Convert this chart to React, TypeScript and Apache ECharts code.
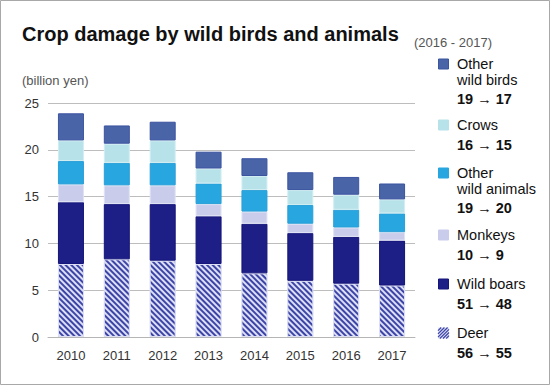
import React, { useEffect, useRef } from "react";
import * as echarts from "echarts";

const years = ["2010", "2011", "2012", "2013", "2014", "2015", "2016", "2017"];
const deer = [7.8, 8.3, 8.15, 7.8, 6.8, 6.0, 5.7, 5.5];
const wildBoars = [6.6, 5.9, 6.05, 5.1, 5.3, 5.1, 5.0, 4.8];
const monkeys = [1.9, 2.0, 2.0, 1.3, 1.3, 1.0, 1.0, 0.9];
const otherWildAnimals = [2.5, 2.4, 2.4, 2.2, 2.3, 2.0, 1.9, 2.0];
const crows = [2.2, 2.05, 2.4, 1.6, 1.5, 1.6, 1.6, 1.5];
const otherWildBirds = [2.9, 1.95, 2.0, 1.8, 1.9, 1.9, 1.9, 1.7];

const yTicks = [0, 5, 10, 15, 20, 25];

const legendItems = [
  { name: ["Other", "wild birds"], change: "19 → 17", color: "#4a64a8", border: "#3b54a0" },
  { name: ["Crows"], change: "16 → 15", color: "#b8e2e9", border: "#b8e2e9" },
  { name: ["Other", "wild animals"], change: "19 → 20", color: "#28a6df", border: "#28a6df" },
  { name: ["Monkeys"], change: "10 → 9", color: "#c9cdeb", border: "#c9cdeb" },
  { name: ["Wild boars"], change: "51 → 48", color: "#1e1e87", border: "#14147a" },
  { name: ["Deer"], change: "56 → 55", color: "hatch", border: "none" },
];

const FONT = "'Liberation Sans', Arial, Helvetica, sans-serif";
const HATCH_BG = "#dde0f4";
const HATCH_FG = "#3d44a8";

export default function App() {
  const ref = useRef<HTMLDivElement>(null);

  useEffect(() => {
    if (!ref.current) return;
    const chart = echarts.init(ref.current, undefined, { renderer: "svg" });

    const seriesDefs = [
      { name: "Deer", data: deer, color: HATCH_BG, border: HATCH_BG, hatch: true },
      { name: "Wild boars", data: wildBoars, color: "#1e1e87", border: "#14147a" },
      { name: "Monkeys", data: monkeys, color: "#c9cdeb", border: "#dfe2f4" },
      { name: "Other wild animals", data: otherWildAnimals, color: "#28a6df", border: "#2a9fd8" },
      { name: "Crows", data: crows, color: "#b8e2e9", border: "#d0eef2" },
      { name: "Other wild birds", data: otherWildBirds, color: "#4a64a8", border: "#3b54a0" },
    ];

    const series = seriesDefs.map((s: any) => ({
      type: "bar",
      name: s.name,
      stack: "total",
      barWidth: 26,
      data: s.data,
      itemStyle: {
        color: s.color,
        borderColor: s.border,
        borderWidth: 1,
        ...(s.hatch
          ? {
              decal: {
                symbol: "rect",
                symbolSize: 1,
                dashArrayX: [1, 0],
                dashArrayY: [1.3, 1.7],
                rotation: Math.PI / 4,
                color: HATCH_FG,
                backgroundColor: HATCH_BG,
              },
            }
          : {}),
      },
    }));

    const graphics: any[] = [];
    graphics.push({
      type: "rect",
      shape: { x: 0.5, y: 0.5, width: 549, height: 384 },
      style: { fill: "none", stroke: "#a8a8a8", lineWidth: 1 },
      silent: true,
    });
    graphics.push({
      type: "text",
      x: 22,
      y: 34,
      style: {
        text: "Crop damage by wild birds and animals",
        font: `bold 20px ${FONT}`,
        fill: "#111",
        textVerticalAlign: "middle",
      },
    });
    graphics.push({
      type: "text",
      x: 414,
      y: 42,
      style: {
        text: "(2016 - 2017)",
        font: `13px ${FONT}`,
        fill: "#555",
        textVerticalAlign: "middle",
      },
    });
    graphics.push({
      type: "text",
      x: 22,
      y: 80,
      style: {
        text: "(billion yen)",
        font: `13px ${FONT}`,
        fill: "#555",
        textVerticalAlign: "middle",
      },
    });

    const legendTops = [64, 125, 173, 235, 284, 333];
    const sqX = 438;
    const sq = 11;
    const txtX = 457;
    legendItems.forEach((it, i) => {
      const top = legendTops[i];
      const sqY = top - 5.5;
      if (it.color === "hatch") {
        graphics.push({
          type: "rect",
          shape: { x: sqX, y: sqY, width: sq, height: sq },
          style: { fill: HATCH_BG },
        });
        const step = 3.2;
        for (let c = step; c < 2 * sq; c += step) {
          const x1 = Math.max(0, c - sq);
          const y1 = Math.min(sq, c);
          const x2 = Math.min(sq, c);
          const y2 = Math.max(0, c - sq);
          graphics.push({
            type: "line",
            shape: { x1: sqX + x1, y1: sqY + y1, x2: sqX + x2, y2: sqY + y2 },
            style: { stroke: HATCH_FG, lineWidth: 1.2 },
          });
        }
      } else {
        graphics.push({
          type: "rect",
          shape: { x: sqX + 0.5, y: sqY + 0.5, width: sq - 1, height: sq - 1 },
          style: { fill: it.color, stroke: it.border, lineWidth: 1 },
        });
      }
      it.name.forEach((line, j) => {
        graphics.push({
          type: "text",
          x: txtX,
          y: top - 0.5 + j * 16,
          style: {
            text: line,
            font: `14.5px ${FONT}`,
            fill: "#111",
            textVerticalAlign: "middle",
          },
        });
      });
      graphics.push({
        type: "text",
        x: txtX,
        y: top + (it.name.length - 1) * 15.5 + 19.5,
        style: {
          text: it.change,
          font: `bold 14.5px ${FONT}`,
          fill: "#111",
          textVerticalAlign: "middle",
        },
      });
    });

    chart.setOption({
      animation: false,
      backgroundColor: "#fff",
      grid: { left: 48, right: 135, top: 103, bottom: 48, containLabel: false },
      xAxis: {
        type: "category",
        data: years,
        axisLine: { lineStyle: { color: "#b5b5b5", width: 1 } },
        axisTick: { show: false },
        axisLabel: { color: "#333", fontSize: 13, fontFamily: FONT, margin: 12 },
      },
      yAxis: {
        type: "value",
        min: yTicks[0],
        max: yTicks[yTicks.length - 1],
        interval: 5,
        axisLine: { show: false },
        axisTick: { show: false },
        axisLabel: { color: "#333", fontSize: 13, fontFamily: FONT, margin: 9 },
        splitLine: { lineStyle: { color: "#bdbdbd", width: 1 } },
      },
      series,
      graphic: graphics,
    });

    return () => chart.dispose();
  }, []);

  return (
    <div
      ref={ref}
      style={{ position: "fixed", left: 0, top: 0, width: 550, height: 385 }}
    />
  );
}
